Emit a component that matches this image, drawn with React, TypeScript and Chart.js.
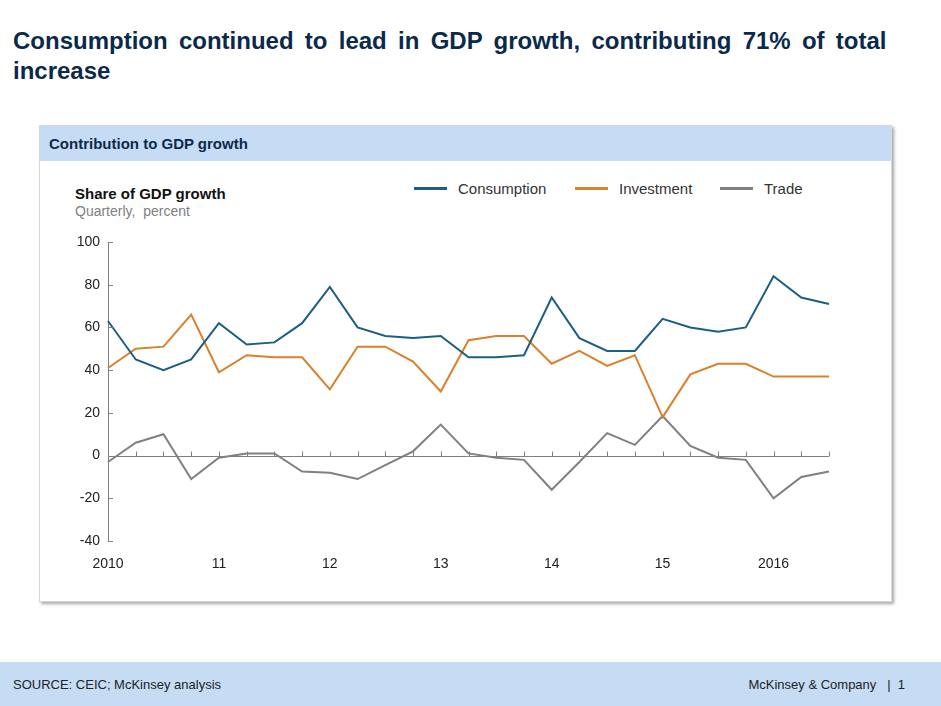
import React, { useEffect, useRef } from "react";
import { Chart, registerables } from "chart.js";

Chart.register(...registerables);

const quarters = [
  "2010", "", "", "",
  "11", "", "", "",
  "12", "", "", "",
  "13", "", "", "",
  "14", "", "", "",
  "15", "", "", "",
  "2016", "", "",
];
const consumption = [63, 45, 40, 45, 62, 52, 53, 62, 79, 60, 56, 55, 56, 46, 46, 47, 74, 55, 49, 49, 64, 60, 58, 60, 84, 74, 71];
const investment = [41, 50, 51, 66, 39, 47, 46, 46, 31, 51, 51, 44, 30, 54, 56, 56, 43, 49, 42, 47, 18, 38, 43, 43, 37, 37, 37];
const trade = [-3, 6, 10, -11, -1, 1, 1, -7.5, -8, -11, -4.5, 2, 14.5, 1, -1, -2, -16, -3, 10.5, 5, 18.5, 4.5, -1, -2, -20, -10, -7.5];
const seriesNames = ["Consumption", "Investment", "Trade"];
const seriesColors = ["#1d5f82", "#d9812c", "#808080"];
const yMin = -40;
const yMax = 100;
const yStep = 20;

const axisPlugin = {
  id: "axisMarks",
  afterDatasetsDraw(chart: any) {
    const { ctx, chartArea, scales } = chart;
    const y = scales.y;
    const x = scales.x;
    ctx.save();
    ctx.strokeStyle = "#808080";
    ctx.lineWidth = 1;
    const y0 = Math.round(y.getPixelForValue(0)) + 0.5;
    ctx.beginPath();
    ctx.moveTo(chartArea.left, y0);
    ctx.lineTo(chartArea.right, y0);
    for (let i = 1; i < quarters.length; i++) {
      const px = Math.round(x.getPixelForValue(i)) + 0.5;
      ctx.moveTo(px, y0);
      ctx.lineTo(px, y0 - 5);
    }
    for (let v = yMin; v <= yMax; v += yStep) {
      const py = Math.round(y.getPixelForValue(v)) + 0.5;
      ctx.moveTo(chartArea.left, py);
      ctx.lineTo(chartArea.left + 5, py);
    }
    ctx.stroke();
    ctx.restore();
  },
};

function LineChart() {
  const ref = useRef<HTMLCanvasElement>(null);
  useEffect(() => {
    if (!ref.current) return;
    const data = [consumption, investment, trade];
    const chart = new Chart(ref.current, {
      type: "line",
      data: {
        labels: quarters,
        datasets: data.map((d, i) => ({
          label: seriesNames[i],
          data: d,
          borderColor: seriesColors[i],
          backgroundColor: seriesColors[i],
          borderWidth: 2,
          pointRadius: 0,
          tension: 0,
        })),
      },
      options: {
        animation: false,
        responsive: false,
        maintainAspectRatio: false,
        layout: { padding: { top: 17, right: 61, left: 0, bottom: 0 } },
        plugins: { legend: { display: false }, tooltip: { enabled: false } },
        scales: {
          x: {
            type: "category",
            offset: false,
            grid: { display: false, drawTicks: false },
            border: { display: false },
            ticks: {
              autoSkip: false,
              maxRotation: 0,
              padding: 15,
              color: "#222",
              font: { family: "Liberation Sans, Arial", size: 14 },
            },
            afterFit(scale: any) {
              scale.height = 44;
            },
          },
          y: {
            min: yMin,
            max: yMax,
            grid: { display: false, drawTicks: false },
            border: { display: true, color: "#808080", width: 1 },
            ticks: {
              stepSize: yStep,
              padding: 8,
              color: "#222",
              font: { family: "Liberation Sans, Arial", size: 14 },
            },
            afterFit(scale: any) {
              scale.width = 68;
            },
          },
        },
      },
      plugins: [axisPlugin],
    });
    return () => chart.destroy();
  }, []);
  return <canvas ref={ref} width={850} height={360} style={{ position: "absolute", left: 40, top: 225, width: 850, height: 360 }} />;
}

export default function App() {
  const font = "'Liberation Sans', Arial, sans-serif";
  const legendLefts = [414, 575, 720];
  return (
    <div style={{ position: "absolute", left: 0, top: 0, width: 941, height: 706, background: "#fff", fontFamily: font, overflow: "hidden" }}>
      <div style={{ position: "absolute", left: 13, top: 26, width: 920, fontSize: 24, fontWeight: "bold", color: "#0b2a4a", lineHeight: "30px", wordSpacing: 4.6 }}>
        Consumption continued to lead in GDP growth, contributing 71% of total<br />increase
      </div>
      <div style={{ position: "absolute", left: 39, top: 125, width: 853, height: 477, background: "#fff", border: "1px solid #d8d8d8", boxSizing: "border-box", boxShadow: "2px 2px 3px rgba(0,0,0,0.35)" }}>
        <div style={{ position: "absolute", left: 0, top: 0, right: 0, height: 35, background: "#c6dcf4" }} />
        <div style={{ position: "absolute", left: 9, top: 9, fontSize: 15, fontWeight: "bold", color: "#0b2a4a" }}>Contribution to GDP growth</div>
      </div>
      <div style={{ position: "absolute", left: 75, top: 185, fontSize: 15, fontWeight: "bold", color: "#111" }}>Share of GDP growth</div>
      <div style={{ position: "absolute", left: 75, top: 203, fontSize: 14, color: "#808080" }}>Quarterly,&nbsp; percent</div>
      {seriesNames.map((n, i) => (
        <div key={n} style={{ position: "absolute", left: legendLefts[i], top: 180, display: "flex", alignItems: "center", fontSize: 15, color: "#333" }}>
          <span style={{ display: "inline-block", width: 33, height: 3, background: seriesColors[i], marginRight: 11 }} />
          <span>{n}</span>
        </div>
      ))}
      <LineChart />
      <div style={{ position: "absolute", left: 0, top: 662, width: 941, height: 44, background: "#c6dcf4" }} />
      <div style={{ position: "absolute", left: 13, top: 677, fontSize: 13, color: "#222" }}>SOURCE: CEIC; McKinsey analysis</div>
      <div style={{ position: "absolute", right: 36, top: 677, fontSize: 13, color: "#222" }}>McKinsey &amp; Company&nbsp;&nbsp; |&nbsp;&nbsp;1</div>
    </div>
  );
}
